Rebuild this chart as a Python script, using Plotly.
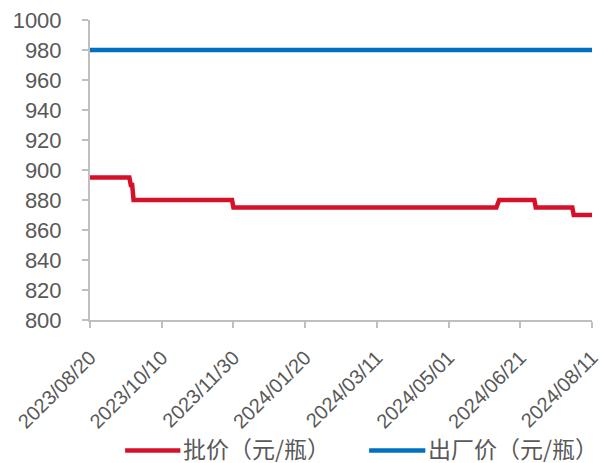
import plotly.graph_objects as go

# Wholesale price (批价) change points, 元/瓶
wholesale_dates = [
    "2023-08-20", "2023-09-17", "2023-09-18", "2023-09-19", "2023-09-20",
    "2023-11-29", "2023-11-30", "2024-06-04", "2024-06-06", "2024-07-01",
    "2024-07-02", "2024-07-28", "2024-07-29", "2024-08-11",
]
wholesale_values = [895, 895, 890, 890, 880, 880, 875, 875, 880, 880, 875, 875, 870, 870]

# Ex-factory price (出厂价), 元/瓶
factory_dates = ["2023-08-20", "2024-08-11"]
factory_values = [980, 980]

tick_dates = ["2023-08-20", "2023-10-10", "2023-11-30", "2024-01-20",
              "2024-03-11", "2024-05-01", "2024-06-21", "2024-08-11"]
tick_labels = ["2023/08/20", "2023/10/10", "2023/11/30", "2024/01/20",
               "2024/03/11", "2024/05/01", "2024/06/21", "2024/08/11"]

series_names = ["批价（元/瓶）", "出厂价（元/瓶）"]
series_colors = ["#D7102A", "#0070C0"]

FONT = "Liberation Sans, Arial, Noto Sans CJK SC, sans-serif"
CJK_FONT = "Noto Sans CJK SC, sans-serif"
TEXT = "#595959"
AXIS = "#bfbfbf"

fig = go.Figure()
fig.add_trace(go.Scatter(
    x=wholesale_dates, y=wholesale_values, mode="lines",
    name=series_names[0], line=dict(color=series_colors[0], width=4.5),
    showlegend=False,
))
fig.add_trace(go.Scatter(
    x=factory_dates, y=factory_values, mode="lines",
    name=series_names[1], line=dict(color=series_colors[1], width=4.5),
    showlegend=False,
))

# Legend drawn below the plot with long line samples
legend_y = -0.435
legend_items = [(0.070, 0.180, 0.182), (0.556, 0.668, 0.670)]
for (x0, x1, xt), name, color in zip(legend_items, series_names, series_colors):
    fig.add_shape(type="line", xref="paper", yref="paper",
                  x0=x0, x1=x1, y0=legend_y, y1=legend_y,
                  line=dict(color=color, width=4.5))
    fig.add_annotation(xref="paper", yref="paper", x=xt, y=legend_y + 0.01,
                       xanchor="left", yanchor="middle", showarrow=False,
                       text=name, font=dict(size=23, color=TEXT, family=CJK_FONT))

fig.update_layout(
    width=601, height=463,
    margin=dict(l=90, r=9, t=20, b=143),
    paper_bgcolor="white", plot_bgcolor="white",
    font=dict(family=FONT, color=TEXT, size=22),
    showlegend=False,
)
fig.update_xaxes(
    type="date", range=["2023-08-20", "2024-08-11 00:00:01"],
    tickvals=tick_dates, ticktext=tick_labels, tickangle=-45,
    showgrid=False, zeroline=False, automargin=False,
    showline=True, linecolor=AXIS, linewidth=2,
    ticks="outside", ticklen=6, tickcolor=AXIS, tickwidth=2,
    tickfont=dict(size=20, color=TEXT, family=FONT),
    ticklabelstandoff=10, ticklabeloverflow="allow",
)
fig.update_yaxes(
    range=[800, 1000], dtick=20, tick0=800,
    showgrid=False, zeroline=False, automargin=False,
    showline=True, linecolor=AXIS, linewidth=2,
    ticks="outside", ticklen=6, tickcolor=AXIS, tickwidth=2,
    tickfont=dict(size=22, color=TEXT, family=FONT),
    ticklabelstandoff=16,
)

fig.write_html("out.html")
